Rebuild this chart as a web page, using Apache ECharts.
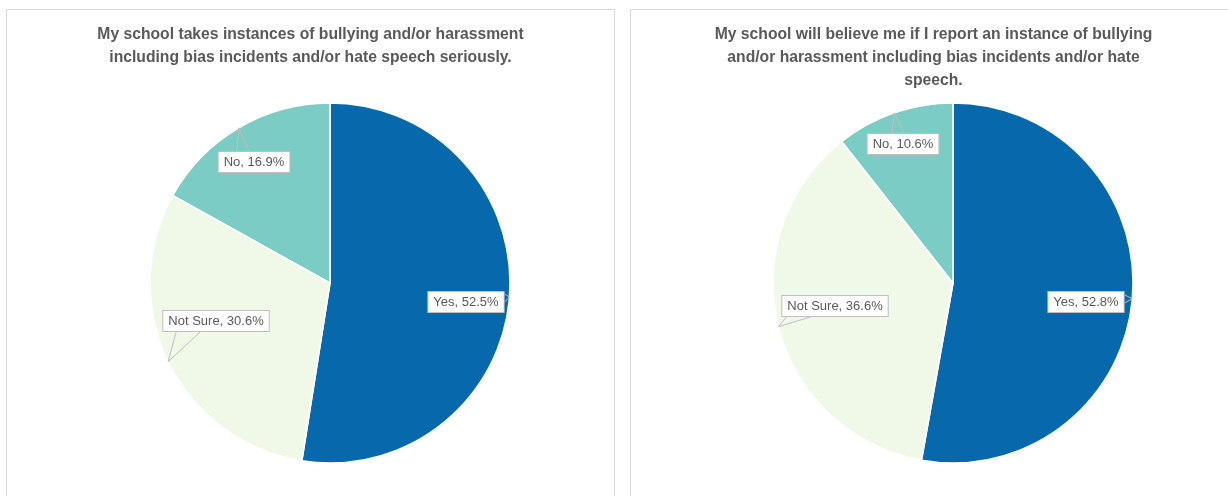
<!DOCTYPE html>
<html>
<head>
<meta charset="utf-8">
<script src="https://cdn.jsdelivr.net/npm/echarts@6/dist/echarts.min.js"></script>
<style>
html,body{margin:0;padding:0;background:#fff;}
#chart{width:1228px;height:496px;}
</style>
</head>
<body>
<div id="chart"></div>
<script>
// ---- Data ----
const categories = ['Yes', 'Not Sure', 'No'];
const titles = [
  'My school takes instances of bullying and/or harassment\nincluding bias incidents and/or hate speech seriously.',
  'My school will believe me if I report an instance of bullying\nand/or harassment including bias incidents and/or hate\nspeech.'
];
const seriousValues = [52.5, 30.6, 16.9];
const believeValues = [52.8, 36.6, 10.6];
const colors = ['#0868AC', '#F0F9E8', '#7BCCC4'];

// ---- Layout (not data) ----
const centers = [[330, 283], [953, 283]];
const pieRadius = 180;
const titleX = [305.5, 928.5];
const labelOffsets = [
  [[136, 19], [-114, 38], [-76, -121]],
  [[133, 19], [-118, 23], [-50, -139]]
];
const allValues = [seriousValues, believeValues];

const chart = echarts.init(document.getElementById('chart'), null, {renderer: 'canvas'});

function tipPoint(idx, i) {
  const vals = allValues[idx];
  const total = vals.reduce((a, b) => a + b, 0);
  let cum = 0;
  for (let k = 0; k < i; k++) cum += vals[k];
  const frac = (cum + vals[i] / 2) / total;
  const ang = (90 - 360 * frac) * Math.PI / 180;
  return [centers[idx][0] + pieRadius * Math.cos(ang), centers[idx][1] - pieRadius * Math.sin(ang)];
}

function basePie(values, idx) {
  return {
    type: 'pie',
    z: 2,
    silent: true,
    center: centers[idx],
    radius: pieRadius,
    startAngle: 90,
    clockwise: true,
    animation: false,
    itemStyle: {borderColor: '#ffffff', borderWidth: 1.5},
    data: categories.map((c, i) => ({name: c, value: values[i], itemStyle: {color: colors[i]}})),
    label: {show: false},
    labelLine: {show: false},
    emphasis: {disabled: true}
  };
}

// transparent overlay pie that carries the callout labels above the slices
function labelPie(values, idx) {
  return {
    type: 'pie',
    z: 5,
    silent: true,
    center: centers[idx],
    radius: pieRadius,
    startAngle: 90,
    clockwise: true,
    animation: false,
    avoidLabelOverlap: false,
    itemStyle: {color: 'rgba(0,0,0,0)', borderWidth: 0},
    data: categories.map((c, i) => ({name: c, value: values[i]})),
    label: {
      show: true,
      position: 'outside',
      overflow: 'none',
      formatter: p => p.name + ', ' + p.value.toFixed(1) + '%',
      fontFamily: 'Liberation Sans',
      fontSize: 13,
      color: '#595959',
      backgroundColor: '#ffffff',
      borderColor: '#BFBFBF',
      borderWidth: 1,
      padding: [4, 5, 3, 5]
    },
    labelLine: {show: true, length: 5, length2: 0, lineStyle: {color: '#BFBFBF', width: 1}},
    labelLayout: function (params) {
      const o = labelOffsets[idx][params.dataIndex];
      const cx = centers[idx][0] + o[0], cy = centers[idx][1] + o[1];
      const w = params.labelRect.width, h = params.labelRect.height;
      const l = cx - w / 2, r = cx + w / 2, t = cy - h / 2, b = cy + h / 2;
      const tip = tipPoint(idx, params.dataIndex);
      const half = 6;
      let a, c;
      if (tip[0] > r && tip[1] > t && tip[1] < b) {
        const yy = Math.min(Math.max(tip[1], t + half + 1), b - half - 1);
        a = [r, yy - half + 2]; c = [r, yy + half - 2];
      } else if (tip[1] < t) {
        const xx = Math.min(Math.max(tip[0] + 4, l + half + 2), r - half - 2);
        a = [xx - half, t]; c = [xx + half, t];
      } else if (tip[1] > b) {
        const xx = Math.min(Math.max(tip[0] + 20, l + half + 2), r - half - 2);
        a = [xx - half * 2, b]; c = [xx + half * 2, b];
      } else {
        const yy = Math.min(Math.max(tip[1], t + half + 1), b - half - 1);
        a = [l, yy - half + 2]; c = [l, yy + half - 2];
      }
      return {
        x: cx, y: cy, align: 'center', verticalAlign: 'middle',
        labelLinePoints: [a, tip, c]
      };
    },
    emphasis: {disabled: true}
  };
}

chart.setOption({
  backgroundColor: '#ffffff',
  title: titles.map((t, i) => ({
    text: t,
    left: titleX[i],
    top: 18,
    textAlign: 'center',
    textStyle: {
      fontFamily: 'Liberation Sans',
      fontWeight: 'bold',
      fontSize: 15.7,
      lineHeight: 23,
      color: '#595959'
    }
  })),
  graphic: [
    {type: 'rect', shape: {x: 6.5, y: 9.5, width: 608, height: 500}, style: {fill: 'none', stroke: '#D9D9D9', lineWidth: 1}, z: -1},
    {type: 'rect', shape: {x: 630.5, y: 9.5, width: 608, height: 500}, style: {fill: 'none', stroke: '#D9D9D9', lineWidth: 1}, z: -1}
  ],
  series: [
    basePie(seriousValues, 0), basePie(believeValues, 1),
    labelPie(seriousValues, 0), labelPie(believeValues, 1)
  ]
});
</script>
</body>
</html>
